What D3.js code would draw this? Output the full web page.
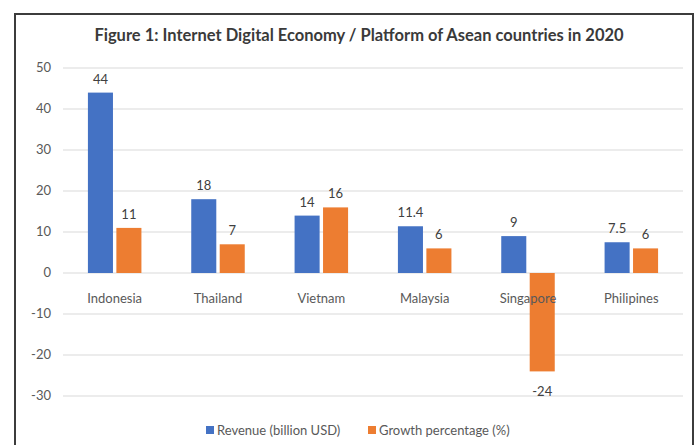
<!DOCTYPE html>
<html>
<head>
<meta charset="utf-8">
<script src="https://cdn.jsdelivr.net/npm/d3@7"></script>
<style>
  body { margin: 0; background: #fff; }
  svg text { font-family: Lato, "Open Sans", sans-serif; }
</style>
</head>
<body>
<div id="chart"></div>
<script>
// data
const countries = ["Indonesia", "Thailand", "Vietnam", "Malaysia", "Singapore", "Philipines"];
const revenue = [44, 18, 14, 11.4, 9, 7.5];
const growth = [11, 7, 16, 6, -24, 6];
const seriesNames = ["Revenue (billion USD)", "Growth percentage (%)"];
const yTicks = [-30, -20, -10, 0, 10, 20, 30, 40, 50];

const width = 700, height = 445;
const margin = { top: 68, bottom: 49, left: 63, right: 17 };
const colors = ["#4472C4", "#ED7D31"];

const svg = d3.select("#chart").append("svg")
  .attr("width", width)
  .attr("height", height);

// outer frame
svg.append("rect")
  .attr("x", 15).attr("y", 14)
  .attr("width", 678).attr("height", 450)
  .attr("fill", "none")
  .attr("stroke", "#3c3c3c")
  .attr("stroke-width", 2);

svg.append("text")
  .attr("x", 359).attr("y", 41)
  .attr("text-anchor", "middle")
  .attr("font-size", 16.5).attr("font-weight", "bold")
  .attr("fill", "#3a3a3a")
  .text("Figure 1: Internet Digital Economy / Platform of Asean countries in 2020");

const x = d3.scaleBand()
  .domain(countries)
  .range([margin.left, width - margin.right]);

const x1 = d3.scaleBand()
  .domain([0, 1])
  .range([0, 53.5])
  .paddingInner(0.12);

const y = d3.scaleLinear()
  .domain([-30, 50])
  .range([height - margin.bottom, margin.top]);

// gridlines
svg.append("g")
  .selectAll("line")
  .data(yTicks)
  .join("line")
  .attr("x1", margin.left).attr("x2", width - margin.right)
  .attr("y1", d => y(d)).attr("y2", d => y(d))
  .attr("stroke", "#d9d9d9");

// y labels
svg.append("g")
  .selectAll("text")
  .data(yTicks)
  .join("text")
  .attr("x", 51)
  .attr("y", d => y(d) + 4)
  .attr("text-anchor", "end")
  .attr("font-size", 13)
  .attr("fill", "#595959")
  .text(d => d);

const rows = countries.map((c, i) => ({ c, vals: [revenue[i], growth[i]] }));

const groups = svg.append("g")
  .selectAll("g")
  .data(rows)
  .join("g")
  .attr("transform", d => `translate(${x(d.c) + (x.bandwidth() - 53.5) / 2},0)`);

groups.selectAll("rect")
  .data(d => d.vals.map((v, k) => ({ v, k })))
  .join("rect")
  .attr("x", d => x1(d.k))
  .attr("width", x1.bandwidth())
  .attr("y", d => y(Math.max(0, d.v)))
  .attr("height", d => Math.abs(y(d.v) - y(0)))
  .attr("fill", d => colors[d.k]);

groups.selectAll("text.val")
  .data(d => d.vals.map((v, k) => ({ v, k })))
  .join("text")
  .attr("class", "val")
  .attr("x", d => x1(d.k) + x1.bandwidth() / 2)
  .attr("y", d => d.v >= 0 ? y(d.v) - 9 : y(d.v) + 25)
  .attr("text-anchor", "middle")
  .attr("font-size", 13)
  .attr("fill", "#404040")
  .text(d => d.v);

// category labels
svg.append("g")
  .selectAll("text")
  .data(countries)
  .join("text")
  .attr("x", d => x(d) + x.bandwidth() / 2)
  .attr("y", y(0) + 30)
  .attr("text-anchor", "middle")
  .attr("font-size", 13)
  .attr("fill", "#595959")
  .text(d => d);

// legend
const legendX = [206, 368];
const legend = svg.append("g")
  .selectAll("g")
  .data(seriesNames)
  .join("g")
  .attr("transform", (d, i) => `translate(${legendX[i]},426)`);
legend.append("rect")
  .attr("width", 8).attr("height", 8)
  .attr("fill", (d, i) => colors[i]);
legend.append("text")
  .attr("x", 11).attr("y", 9)
  .attr("font-size", 13)
  .attr("fill", "#595959")
  .text(d => d);
</script>
</body>
</html>
